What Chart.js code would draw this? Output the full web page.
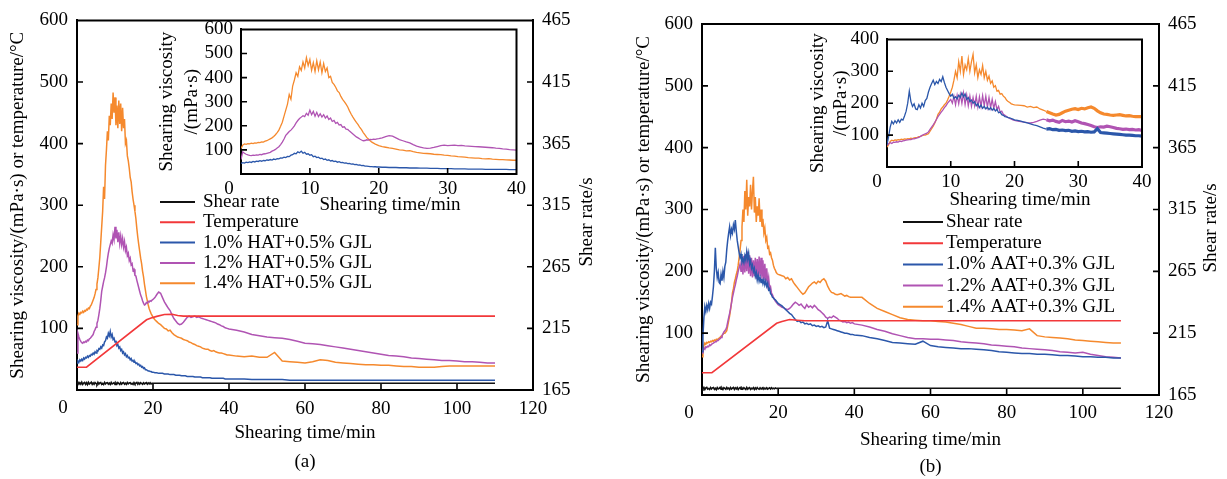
<!DOCTYPE html>
<html>
<head>
<meta charset="utf-8">
<script src="https://cdn.jsdelivr.net/npm/chart.js@4.4.0/dist/chart.umd.min.js"></script>
<style>
html,body{margin:0;padding:0;background:#fff;width:1227px;height:479px;overflow:hidden;}
canvas{position:absolute;}
</style>
</head>
<body>
<canvas id="mainA" width="613" height="479" style="left:0;top:0;width:613px;height:479px"></canvas>
<canvas id="mainB" width="614" height="479" style="left:613px;top:0;width:614px;height:479px"></canvas>
<canvas id="insetA" width="380" height="210" style="left:150px;top:10px;width:380px;height:210px"></canvas>
<canvas id="insetB" width="360" height="200" style="left:800px;top:20px;width:360px;height:200px"></canvas>
<script>
// ---------- DATA ----------
const time = [0,0.25,0.5,0.75,1,1.25,1.5,1.75,2,2.25,2.5,2.75,3,3.25,3.5,3.75,4,4.25,4.5,4.75,5,5.25,5.5,5.75,6,6.25,6.5,6.75,7,7.25,7.5,7.75,8,8.25,8.5,8.75,9,9.25,9.5,9.75,10,10.25,10.5,10.75,11,11.25,11.5,11.75,12,12.25,12.5,12.75,13,13.25,13.5,13.75,14,14.25,14.5,14.75,15,15.25,15.5,15.75,16,16.25,16.5,16.75,17,17.25,17.5,17.75,18,18.25,18.5,18.75,19,19.25,19.5,19.75,20,
20.5,21,21.5,22,22.5,23,23.5,24,24.5,25,25.5,26,26.5,27,27.5,28,28.5,29,29.5,30,30.5,31,31.5,32,32.5,33,33.5,34,34.5,35,35.5,36,36.5,37,37.5,38,38.5,39,39.5,40,
42,44,46,48,50,52,54,56,58,60,62,64,66,68,70,72,74,76,78,80,82,84,86,88,90,92,94,96,98,100,102,104,106,108,110];

const xTicksMain = [0,20,40,60,80,100,120];
const yTicksMain = [0,100,200,300,400,500,600];
const rateTicks = [165,215,265,315,365,415,465];
const xTicksInset = [0,10,20,30,40];
const yTicksInsetA = [0,100,200,300,400,500,600];
const yTicksInsetB = [0,100,200,300,400];

// Panel (a) HAT + 0.5% GJL
const blueA = [44,47,45,49, 47,50,48,52, 50,53,52,55, 53,56,55,58, 57,60,58,62, 60,64,63,67, 66,70,68,73, 72,78,80,86, 84,92,88,95, 86,90,82,84,
 78,80,72,74, 68,70,64,66, 60,62,57,59, 54,56,52,53, 49,51,47,48, 45,46,43,44, 41,42,39,40, 37,38,35,36, 33,33,32,31, 31,30,30,29, 29,
 28,28,27,27,27,26,26,26,25,25,25,24,24,24,23,23,23,22,22,22,22,21,21,21,21,20,20,20,20,20,19,19,19,19,19,19,19,18,18,18,
 18,18,17,17,17,17,17,16,16,16,16,16,16,16,16,16,16,16,16,16,16,16,16,16,16,16,16,16,16,16,16,16,16,16,16];
const magentaA = [60,92,86,82, 79,77,76,78, 77,79,78,81, 80,83,84,86, 88,90,95,98, 102,108,113,122, 132,145,160,168, 176,182,190,200, 212,222,230,236, 242,238,252,244,
 265,246,260,240, 256,238,250,236, 246,232,241,226, 232,218,222,210, 214,203,205,194, 196,186,185,178, 172,166,160,154, 150,145,141,138, 139,142,141,144, 143,145,144,146, 147,
 150,155,159,157,150,143,138,133,129,122,116,112,108,106,107,110,114,118,120,118,119,120,118,119,117,116,115,114,113,112,111,110,109,107,106,104,103,101,100,99,
 97,94,90,88,86,85,84,82,79,76,75,74,72,70,68,66,64,62,60,58,56,55,54,52,51,50,49,48,48,47,46,46,45,44,44];
const orangeA = [106,120,125,123, 126,125,128,126, 129,128,131,130, 133,132,136,138, 142,146,150,156, 163,172,182,198, 215,240,265,290, 330,310,365,390, 420,405,445,430, 465,440,483,450,
 475,430,462,425, 470,432,465,420, 458,425,440,400, 405,380,372,360, 345,338,322,310, 300,290,278,262, 248,236,225,214, 205,193,184,172, 162,152,145,138, 132,128,124,121, 118,
 114,111,108,106,103,100,99,96,97,93,90,88,86,85,84,82,81,80,78,77,75,74,72,71,70,68,67,66,66,64,63,64,62,61,60,60,59,58,57,57,
 55,54,55,53,53,61,47,46,45,44,46,49,48,45,44,43,42,41,41,40,40,39,38,38,37,37,37,38,39,39,39,39,39,39,39];
const tempTimeA = [0,2.5,18.3,19.5,21,23,25,26.5,28,110];
const tempA = [37,37,114,117,119.5,122.5,123,121,120,120];
const shearA = [170.4,171.2,169.7,170.9,169.8,171.3,169.5,170.6,171.1,169.6,170.9,169.4,171.2,169.9,170.5,171.3,
 169.6,170.8,169.7,171.0,170.3,169.5,171.2,169.8,170.7,171.1,169.6,170.4,169.5,171.2,169.9,170.8,
 171.0,169.7,170.6,169.5,171.2,169.9,170.4,171.0,169.6,170.8,169.8,171.1,170.3,169.5,171.0,169.8,
 170.7,171.1,169.7,170.5,169.6,171.1,170.0,170.7,171.0,169.8,170.4,169.6,171.0,169.9,170.6,171.1,
 169.7,170.8,169.8,171.0,170.3,169.7,170.9,170.0,170.5,171.0,169.8,170.7,170.0,170.9,169.9,170.4,170.5, 170.5];
const labelsA = ['Shear rate','Temperature','1.0% HAT+0.5% GJL','1.2% HAT+0.5% GJL','1.4% HAT+0.5% GJL'];

// Panel (b) AAT + 0.3% GJL
const blueB = [70,95,125,143, 135,145,138,148, 140,150,147,160, 175,200,238,205, 190,198,182,180, 195,185,200,190, 208,215,235,250, 262,272,258,268, 262,275,268,283, 265,250,240,230,
 222,228,215,220, 214,225,218,232, 220,229,212,218, 205,210,200,205, 192,198,186,194, 184,190,182,188, 180,186,178,184, 176,181,170,172, 164,162,158,157, 155,154,152,150, 148,
 146,144,141,138,135,132,130,126,122,119,120,117,118,115,116,114,115,112,113,111,112,110,111,109,110,120,108,107,106,105,104,103,102,101,100,100,99,98,98,97,
 96,93,91,88,85,84,83,82,87,80,78,77,76,75,75,74,73,72,70,69,68,67,67,66,66,65,64,64,63,62,62,61,61,60,60];
const magentaB = [68,73,76,74, 78,77,79,78, 81,80,82,83, 84,85,86,86, 88,88,90,91, 93,96,99,102, 104,106,110,118, 125,132,140,149, 158,165,172,178, 186,192,200,206,
 212,200,222,195, 225,198,228,200, 232,196,226,192, 222,190,218,192, 222,188,220,190, 224,192,222,188, 218,186,212,184, 205,180,190,172, 175,165,162,158, 155,152,150,148, 146,
 144,142,141,139,138,140,143,147,150,148,145,147,143,140,146,142,144,141,145,142,138,136,133,130,126,124,126,125,128,126,124,121,120,118,119,117,118,116,117,115,
 113,110,106,103,99,96,93,91,91,90,90,89,88,86,85,84,83,81,80,79,78,76,75,74,73,72,70,69,68,69,66,64,62,61,60];
const orangeB = [62,70,80,84, 82,85,84,86, 85,87,86,88, 87,89,88,90, 89,91,92,93, 95,96,98,100, 100,102,104,112, 120,128,138,150, 165,172,182,188, 195,200,210,222,
 235,250,272,300, 280,330,300,348, 290,320,305,340, 300,330,353,295, 320,280,305,290, 318,280,300,272, 285,262,270,250, 255,238,240,228, 230,222,218,210, 205,202,198,196, 195,
 194,193,192,188,190,186,188,182,178,174,170,166,163,165,170,175,178,181,183,180,184,182,186,188,184,176,170,166,165,163,162,163,164,162,160,161,159,158,158,158,
 158,148,140,135,130,125,122,121,120,120,119,118,116,114,111,108,108,107,106,106,105,104,107,96,94,93,92,91,89,88,87,86,85,84,84];
const tempTimeB = [0,2.6,19.6,21,23,25,27,110];
const tempB = [36,36,116,119,122,121,120,120];
const shearB = [170.6,169.7,171.1,169.5,170.8,171.2,169.8,170.3,169.5,171.0,169.9,170.8,171.1,169.6,170.5,169.4,
 171.0,169.9,170.4,171.2,169.6,170.7,169.5,170.9,170.3,169.7,171.1,170.0,170.6,169.5,171.0,169.8,
 170.5,171.1,169.6,170.8,169.9,171.0,169.5,170.5,171.1,169.7,170.8,169.9,170.9,170.2,169.5,171.1,
 169.8,170.6,171.0,169.6,170.4,170.0,170.9,169.5,170.7,169.8,171.0,170.1,169.7,170.8,169.9,170.5,
 171.0,169.7,170.6,170.0,170.9,169.8,170.4,170.8,169.9,170.9,170.0,170.5,170.0,170.7,170.3,170.5,170.5, 170.5];
const labelsB = ['Shear rate','Temperature','1.0% AAT+0.3% GJL','1.2% AAT+0.3% GJL','1.4% AAT+0.3% GJL'];

// ---------- STYLE ----------
const FAM = '"Liberation Serif","Times New Roman",serif';
const BLACK = '#111111', RED = '#F2383A', BLUE = '#2B57AA', MAG = '#B054B3', ORA = '#F5892D';

[blueA,magentaA,orangeA,blueB,magentaB,orangeB].forEach((a,i)=>{ if(a.length!==time.length) console.error('length mismatch', i, a.length, time.length); });
const shearTime = time.slice(0,81).concat([110]);

function xy(t, v){ return t.map((x,i)=>({x:x, y:v[i]})); }
function line(label, t, v, color, axis, w, extra){
  return Object.assign({label:label, data:xy(t,v), borderColor:color, backgroundColor:color, borderWidth:w, pointRadius:0, tension:0, fill:false, yAxisID:axis}, extra||{});
}

const decor = {
  id:'decor',
  beforeDraw(chart, args, o){
    if(o.fillWhite){ const a=chart.chartArea, c=chart.ctx; c.save(); c.fillStyle='#fff'; c.fillRect(a.left,a.top,a.right-a.left,a.bottom-a.top); c.restore(); }
  },
  afterDraw(chart, args, o){
    const c=chart.ctx, a=chart.chartArea, sx=chart.scales.x, sy=chart.scales.y, sy2=chart.scales.y2;
    c.save();
    c.strokeStyle='#000'; c.lineWidth=2; c.lineCap='square';
    c.beginPath(); c.moveTo(a.left,a.top); c.lineTo(a.right,a.top);
    if(o.rightBorder){ c.moveTo(a.right,a.top); c.lineTo(a.right,a.bottom); }
    c.stroke();
    c.lineWidth=1.6; c.lineCap='butt'; c.beginPath();
    sx.ticks.forEach(t=>{ if(t.value>sx.min && t.value<sx.max){ const p=sx.getPixelForValue(t.value); c.moveTo(p,a.bottom); c.lineTo(p,a.bottom-o.tick);} });
    sy.ticks.forEach(t=>{ if(t.value>sy.min && t.value<sy.max){ const p=sy.getPixelForValue(t.value); c.moveTo(a.left,p); c.lineTo(a.left+o.tick,p);} });
    if(sy2) sy2.ticks.forEach(t=>{ if(t.value>sy2.min && t.value<sy2.max){ const p=sy2.getPixelForValue(t.value); c.moveTo(a.right,p); c.lineTo(a.right-o.tick,p);} });
    c.stroke();
    c.fillStyle='#000'; c.font='19px '+FAM; c.textAlign='center'; c.textBaseline='middle';
    c.fillText('0', sx.getPixelForValue(0)+o.zero.dx, a.bottom+o.zero.dy);
    if(o.rightTitle){ c.save(); c.translate(o.rightTitle.x,o.rightTitle.y); c.rotate(-Math.PI/2); c.fillText(o.rightTitle.text,0,0); c.restore(); }
    if(o.xTitle){ c.fillText(o.xTitle.text, o.xTitle.x, o.xTitle.y); }
    if(o.legend){
      const L=o.legend;
      chart.data.datasets.forEach((d,i)=>{
        const y=L.y0+i*L.dy;
        c.strokeStyle=d.borderColor; c.lineWidth=2; c.beginPath(); c.moveTo(L.x0,y); c.lineTo(L.x1,y); c.stroke();
        c.textAlign='left'; c.fillStyle='#000'; c.fillText(d.label,L.tx,y);
      });
    }
    c.restore();
  }
};

const tickFont = {family:FAM, size:19};
const gridOff = {display:true, drawOnChartArea:false, drawTicks:false};
const border = {display:true, color:'#000', width:2};

function mainChart(id, P){
  return new Chart(document.getElementById(id), {
    type:'line',
    data:{datasets:[
      line(P.labels[0], shearTime, P.shear, BLACK, 'y2', 1.6),
      line(P.labels[1], P.tempT, P.temp, RED, 'y', 1.6),
      line(P.labels[2], time, P.blue, BLUE, 'y', 1.5),
      line(P.labels[3], time, P.mag, MAG, 'y', 1.5),
      line(P.labels[4], time, P.ora, ORA, 'y', 1.5)
    ]},
    options:{
      responsive:false, animation:false, devicePixelRatio:1, events:[],
      layout:{padding:{top:P.top,left:0,right:0,bottom:0}},
      plugins:{legend:{display:false}, tooltip:{enabled:false}, decor:P.decor},
      scales:{
        x:{type:'linear', min:0, max:120, afterBuildTicks:s=>{s.ticks=xTicksMain.map(v=>({value:v}));},
           ticks:{font:tickFont, color:'#000', padding:P.xpad, maxRotation:0, autoSkip:false, callback:v=>v===0?'':v},
           grid:gridOff, border:border,
           title:{display:true, text:['Shearing time/min', P.panel], color:'#000', font:{family:FAM,size:19,lineHeight:P.tlh}, padding:{top:0,bottom:P.tpb}},
           afterFit:s=>{s.height=P.xh;}},
        y:{type:'linear', position:'left', min:0, max:600, afterBuildTicks:s=>{s.ticks=yTicksMain.map(v=>({value:v}));},
           ticks:{font:tickFont, color:'#000', padding:9, autoSkip:false, callback:v=>v===0?'':v},
           grid:gridOff, border:border,
           title:{display:true, text:'Shearing viscosity/(mPa·s) or temperature/°C', color:'#000', font:{family:FAM,size:19}, padding:{top:P.ytp,bottom:0}},
           afterFit:s=>{s.width=P.yw;}},
        y2:{type:'linear', position:'right', min:165, max:465, afterBuildTicks:s=>{s.ticks=rateTicks.map(v=>({value:v}));},
           ticks:{font:tickFont, color:'#000', padding:9, autoSkip:false},
           grid:gridOff, border:border,
           afterFit:s=>{s.width=P.y2w;}}
      }
    },
    plugins:[decor]
  });
}

function insetChart(id, P){
  return new Chart(document.getElementById(id), {
    type:'line',
    data:{datasets:[
      line('b', time, P.blue, BLUE, 'y', 1.3, P.seg),
      line('m', time, P.mag, MAG, 'y', 1.3, P.seg),
      line('o', time, P.ora, ORA, 'y', 1.3, P.seg)
    ]},
    options:{
      responsive:false, animation:false, devicePixelRatio:1, events:[],
      layout:{padding:{top:P.top,left:0,right:P.right,bottom:0}},
      plugins:{legend:{display:false}, tooltip:{enabled:false}, decor:P.decor},
      scales:{
        x:{type:'linear', min:0, max:40, afterBuildTicks:s=>{s.ticks=xTicksInset.map(v=>({value:v}));},
           ticks:{font:tickFont, color:'#000', padding:4, maxRotation:0, autoSkip:false, callback:v=>v===0?'':v},
           grid:gridOff, border:border,
           afterFit:s=>{s.height=P.xh;}},
        y:{type:'linear', position:'left', min:0, max:P.ymax, afterBuildTicks:s=>{s.ticks=P.yt.map(v=>({value:v}));},
           ticks:{font:tickFont, color:'#000', padding:8, autoSkip:false, callback:v=>v===0?'':v},
           grid:gridOff, border:border,
           title:{display:true, text:['Shearing viscosity','/(mPa·s)'], color:'#000', font:{family:FAM,size:19,lineHeight:P.ylh}, padding:{top:P.ytp,bottom:0}},
           afterFit:s=>{s.width=P.yw;}}
      }
    },
    plugins:[decor]
  });
}

mainChart('mainA', {labels:labelsA, shear:shearA, tempT:tempTimeA, temp:tempA, blue:blueA, mag:magentaA, ora:orangeA,
  panel:'(a)', top:19, xh:89, yw:77, y2w:80, xpad:7.5, tlh:29/19, tpb:2.5, ytp:6.6,
  decor:{tick:6, zero:{dx:-14, dy:18}, rightTitle:{text:'Shear rate/s', x:587, y:222},
         legend:{x0:160, x1:195, tx:203, y0:202, dy:20.3}}});
mainChart('mainB', {labels:labelsB, shear:shearB, tempT:tempTimeB, temp:tempB, blue:blueB, mag:magentaB, ora:orangeB,
  panel:'(b)', top:24, xh:84, yw:89, y2w:68, xpad:7, tlh:27/19, tpb:-1.5, ytp:20,
  decor:{tick:6, zero:{dx:-13, dy:18}, rightTitle:{text:'Shear rate/s', x:598, y:228},
         legend:{x0:290, x1:330, tx:333, y0:222, dy:21.2}}});
insetChart('insetA', {blue:blueA, mag:magentaA, ora:orangeA, top:19, right:13, xh:46, yw:91, ymax:600, yt:yTicksInsetA,
  ylh:25/19, ytp:4.5,
  decor:{tick:6, zero:{dx:-12, dy:15}, rightBorder:true, fillWhite:true, xTitle:{text:'Shearing time/min', x:240, y:195}}});
insetChart('insetB', {blue:blueB, mag:magentaB, ora:orangeB, top:19, right:18, xh:53, yw:87, ymax:400, yt:yTicksInsetB,
  ylh:23/19, ytp:6.5,
  seg:{segment:{borderWidth:ctx=>ctx.p0.parsed.x>=25?3.2:1.3}},
  decor:{tick:6, zero:{dx:-10, dy:15}, rightBorder:true, fillWhite:true, xTitle:{text:'Shearing time/min', x:220, y:180}}});
</script>
</body>
</html>
